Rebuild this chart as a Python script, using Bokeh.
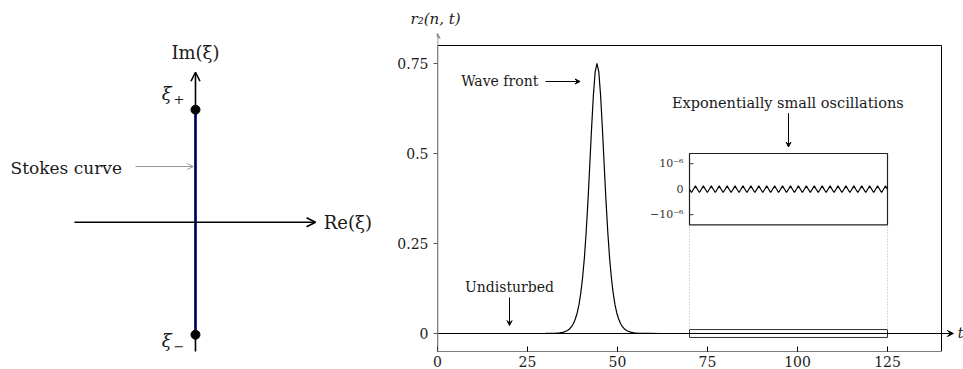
import numpy as np
from bokeh.plotting import figure
from bokeh.layouts import row
from bokeh.models import Range1d, Label, Arrow, VeeHead, OpenHead, FixedTicker
from bokeh.embed import file_html
from bokeh.resources import INLINE

FONT = "DejaVu Serif"
TXT = "#1a1a1a"

# ---------------- data ----------------
# left panel: singular points on the imaginary axis
xi_x = [0.0, 0.0]
xi_y = [1.0, -1.0]
stokes_x = [0.0, 0.0]
stokes_y = [-1.0, 1.0]

# right panel: wave profile r_2(n, t)
wave_t = [0, 10, 20, 30, 31, 32, 33, 34, 35, 35.8, 36.3, 36.8, 37.3, 37.8, 38.3,
          38.8, 39.3, 39.8, 40.3, 40.8, 41.3, 41.8, 42.3, 42.8, 43.3, 43.8, 44.3,
          44.8, 45.3, 45.8, 46.3, 46.8, 47.3, 47.8, 48.3, 48.8, 49.3, 49.8, 50.3,
          50.8, 51.3, 51.8, 52.3, 52.8, 53.6, 54.6, 55.6, 56.6, 57.6, 59, 62, 70,
          100, 140]
wave_r = [0, 0, 0, 0.0001, 0.0002, 0.0005, 0.0009, 0.0019, 0.0039, 0.0069, 0.0098,
          0.014, 0.020, 0.0285, 0.041, 0.057, 0.080, 0.112, 0.155, 0.21, 0.282,
          0.369, 0.468, 0.570, 0.662, 0.727, 0.75, 0.727, 0.662, 0.570, 0.468,
          0.369, 0.282, 0.21, 0.155, 0.112, 0.080, 0.057, 0.041, 0.0285, 0.020,
          0.014, 0.0098, 0.0069, 0.0039, 0.0019, 0.0009, 0.0005, 0.0002, 0.0001,
          0, 0, 0, 0]

t_min, t_max = 0, 140
r_min, r_max = -0.05, 0.8
x_ticks = [0, 25, 50, 75, 100, 125]
y_ticks = [0, 0.25, 0.5, 0.75]
y_tick_labels = {0: "0", 0.25: "0.25", 0.5: "0.5", 0.75: "0.75"}

# inset: exponentially small oscillations (units of 1e-6)
osc_t = np.arange(70, 125.001, 0.55)
osc_e6 = [0, -0.13, 0, 0.13, 0, -0.13, 0, 0.13, 0, -0.13, 0, 0.13, 0, -0.13, 0, 0.13,
          0, -0.13, 0, 0.13, 0, -0.13, 0, 0.13, 0, -0.13, 0, 0.13, 0, -0.13, 0, 0.13,
          0, -0.13, 0, 0.13, 0, -0.13, 0, 0.13, 0, -0.13, 0, 0.13, 0, -0.13, 0, 0.13,
          0, -0.13, 0, 0.13, 0, -0.13, 0, 0.13, 0, -0.13, 0, 0.13, 0, -0.13, 0, 0.13,
          0, -0.13, 0, 0.13, 0, -0.13, 0, 0.13, 0, -0.13, 0, 0.13, 0, -0.13, 0, 0.13,
          0, -0.13, 0, 0.13, 0, -0.13, 0, 0.13, 0, -0.13, 0, 0.13, 0, -0.13, 0, 0.13,
          0, -0.13, 0, 0.13, 0]
osc_v = [v * 1e-6 for v in osc_e6[:len(osc_t)]]
inset_t = [70, 125]
inset_lim = 1.4e-6
inset_ticks = [1e-6, 0.0, -1e-6]
inset_tick_labels = ["10⁻⁶", "0", "−10⁻⁶"]

# ---------------- left panel ----------------
L = figure(width=390, height=369, x_range=Range1d(-1.733, 1.7333),
           y_range=Range1d(-1.1493, 1.7218), output_backend="svg",
           toolbar_location=None, x_axis_type=None, y_axis_type=None,
           min_border_left=0, min_border_right=0, min_border_top=28,
           min_border_bottom=18, outline_line_color=None)
L.grid.visible = False

L.add_layout(Arrow(end=OpenHead(size=9, line_width=1.6, line_color="black"),
                   x_start=-1.076, y_start=0, x_end=1.067, y_end=0,
                   line_width=1.6, line_color="black"))
L.add_layout(Arrow(end=OpenHead(size=9, line_width=1.6, line_color="black"),
                   x_start=0, y_start=-1.25, x_end=0, y_end=1.333,
                   line_width=1.6, line_color="black"))
L.line(stokes_x, stokes_y, line_color="#0000ff", line_width=2.6)
L.scatter(xi_x, xi_y, size=9, color="black")

L.add_layout(Label(x=0, y=1.511, text="Im(ξ)", text_font=FONT, text_font_size="18px",
                   text_align="center", text_baseline="middle", text_color=TXT))
L.add_layout(Label(x=1.14, y=0, text="Re(ξ)", text_font=FONT, text_font_size="18px",
                   text_align="left", text_baseline="middle", text_color=TXT))
L.add_layout(Label(x=-0.30, y=1.14, text="ξ", text_font=FONT, text_font_size="18px",
                   text_font_style="italic", text_align="left", text_baseline="middle",
                   text_color=TXT))
L.add_layout(Label(x=-0.195, y=1.095, text="+", text_font=FONT, text_font_size="13px",
                   text_align="left", text_baseline="middle", text_color=TXT))
L.add_layout(Label(x=-0.30, y=-1.149, text="ξ", text_font=FONT, text_font_size="18px",
                   text_font_style="italic", text_align="left", text_baseline="bottom",
                   text_color=TXT))
L.add_layout(Label(x=-0.195, y=-1.149, text="−", text_font=FONT, text_font_size="13px",
                   text_align="left", text_baseline="bottom", text_color=TXT))
L.add_layout(Label(x=-1.644, y=0.48, text="Stokes curve", text_font=FONT,
                   text_font_size="17px", text_align="left", text_baseline="middle",
                   text_color=TXT))
L.add_layout(Arrow(end=OpenHead(size=6, line_width=1, line_color="#9a9a9a"),
                   x_start=-0.533, y_start=0.495, x_end=-0.02, y_end=0.495,
                   line_width=1, line_color="#9a9a9a"))

# ---------------- right panel ----------------
R = figure(width=573, height=369, x_range=Range1d(0, 146.11),
           y_range=Range1d(r_min, 0.8472), output_backend="svg", toolbar_location=None,
           min_border_left=47, min_border_right=0, min_border_top=28,
           min_border_bottom=18)
R.grid.visible = False
R.outline_line_color = None
R.extra_y_ranges = {"inset": Range1d(-6.365e-6, 6.302e-6)}

R.title.text = "r₂(n, t)"
R.title.text_font = FONT
R.title.text_font_size = "15px"
R.title.text_font_style = "italic"
R.title.text_color = TXT
R.title.align = "left"
R.title.offset = -27
R.title.standoff = 0
R.title.vertical_align = "middle"

R.xaxis.ticker = FixedTicker(ticks=x_ticks)
R.xaxis.minor_tick_line_color = None
R.xaxis.major_tick_in = 5
R.xaxis.major_tick_out = 0
R.xaxis.major_label_standoff = 4
R.xaxis.axis_line_color = None
R.xaxis.major_label_text_font = FONT
R.xaxis.major_label_text_font_size = "14px"
R.xaxis.major_label_text_color = TXT

R.yaxis.ticker = FixedTicker(ticks=y_ticks)
R.yaxis.major_label_overrides = y_tick_labels
R.yaxis.minor_tick_line_color = None
R.yaxis.major_tick_in = 0
R.yaxis.major_tick_out = 4
R.yaxis.major_label_standoff = 5
R.yaxis.axis_line_color = None
R.yaxis.major_tick_line_color = "#555555"
R.yaxis.major_label_text_font = FONT
R.yaxis.major_label_text_font_size = "14px"
R.yaxis.major_label_text_color = TXT

# plot box
R.quad(left=[t_min], right=[t_max], bottom=[r_min], top=[r_max],
       fill_color=None, line_color="black", line_width=1)

# main curve
R.line(wave_t, wave_r, line_color="black", line_width=1.2)

# t axis arrow and y axis arrow
R.add_layout(Arrow(end=VeeHead(size=6, fill_color="black", line_color="black"),
                   x_start=0, y_start=0, x_end=143.3, y_end=0,
                   line_width=1, line_color="black"))
R.add_layout(Arrow(end=VeeHead(size=5, fill_color="#808080", line_color="#808080"),
                   x_start=0, y_start=r_min, x_end=0, y_end=0.8333,
                   line_width=1.6, line_color="#808080"))
R.add_layout(Label(x=144.5, y=0, text="t", text_font=FONT, text_font_size="14px",
                   text_font_style="italic", text_align="left", text_baseline="middle",
                   text_color=TXT))

# zoom window rectangle and dotted connectors
R.quad(left=[inset_t[0]], right=[inset_t[1]], bottom=[-0.011], top=[0.011],
       fill_color=None, line_color="#333333", line_width=1)
R.segment(x0=inset_t, y0=[0.011, 0.011], x1=inset_t, y1=[0.3017, 0.3017],
          line_color="#b0b0b0", line_dash="1 2", line_width=1)

# inset
R.quad(left=[inset_t[0]], right=[inset_t[1]], bottom=[-inset_lim], top=[inset_lim],
       fill_color="white", line_color="#222222", line_width=1.2, y_range_name="inset")
R.line(osc_t, osc_v, line_color="black", line_width=1.2, y_range_name="inset")
R.segment(x0=[inset_t[0]] * 2, y0=[inset_ticks[0], inset_ticks[2]],
          x1=[inset_t[0] + 1.1] * 2, y1=[inset_ticks[0], inset_ticks[2]],
          line_color="#333333", line_width=1, y_range_name="inset")
for yv, lab in zip(inset_ticks, inset_tick_labels):
    R.add_layout(Label(x=inset_t[0], y=yv, x_offset=-6, text=lab, text_font=FONT,
                       text_font_size="11px", text_align="right",
                       text_baseline="middle", text_color="#333333",
                       y_range_name="inset"))

# annotations
R.add_layout(Label(x=28.0, y=0.70, text="Wave front", text_font=FONT,
                   text_font_size="14px", text_align="right", text_baseline="middle",
                   text_color=TXT))
R.add_layout(Arrow(end=VeeHead(size=5, fill_color="black", line_color="black"),
                   x_start=30, y_start=0.70, x_end=39.6, y_end=0.70,
                   line_width=1, line_color="black"))
R.add_layout(Label(x=97.3, y=0.64, text="Exponentially small oscillations",
                   text_font=FONT, text_font_size="14.5px", text_align="center",
                   text_baseline="middle", text_color=TXT))
R.add_layout(Arrow(end=VeeHead(size=5, fill_color="black", line_color="black"),
                   x_start=97.5, y_start=0.612, x_end=97.5, y_end=0.518,
                   line_width=1, line_color="black"))
R.add_layout(Label(x=20.0, y=0.13, text="Undisturbed", text_font=FONT,
                   text_font_size="14px", text_align="center", text_baseline="middle",
                   text_color=TXT))
R.add_layout(Arrow(end=VeeHead(size=5, fill_color="black", line_color="black"),
                   x_start=20, y_start=0.10, x_end=20, y_end=0.022,
                   line_width=1, line_color="black"))

p = row(L, R)
open("out.html", "w").write(file_html(p, INLINE))
